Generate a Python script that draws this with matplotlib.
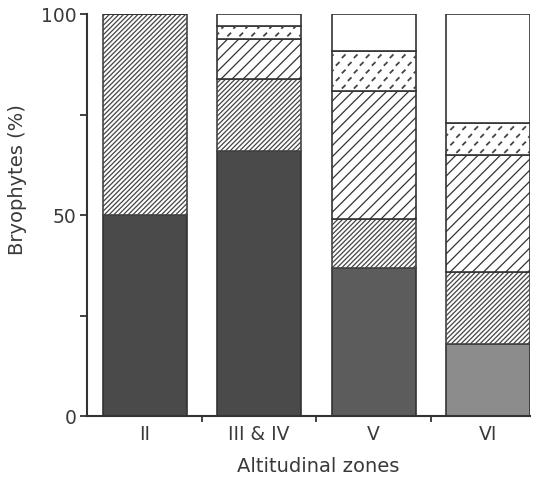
import matplotlib
matplotlib.use('Agg')
import matplotlib.pyplot as plt
from matplotlib.collections import LineCollection
import numpy as np

# Altitudinal zones and bryophyte percentages per group (bottom to top)
zones = ['II', 'III & IV', 'V', 'VI']
group_dark = [50, 66, 37, 18]     # dotted grey
group_fine = [50, 18, 12, 18]     # fine diagonal hatch
group_coarse = [0, 10, 32, 29]    # coarse diagonal hatch
group_dash = [0, 3, 10, 8]        # small dash texture
group_open = [0, 3, 9, 27]        # open / white

dark_colors = ['#4a4a4a', '#4a4a4a', '#5c5c5c', '#8c8c8c']
LINE = '#333333'
TEXT = '#3a3a3a'

plt.rcParams['hatch.linewidth'] = 0.9
plt.rcParams['font.family'] = ['DejaVu Sans']

fig = plt.figure(figsize=(5.42, 4.8), dpi=100)
ax = fig.add_axes([0.1614, 0.1323, 0.978 - 0.1614, 0.970 - 0.1323])

x = np.arange(len(zones))
w = 0.733
bottom = np.zeros(len(zones))

ax.bar(x, group_dark, w, bottom=bottom, color=dark_colors, edgecolor=LINE, linewidth=1.2)
bottom += group_dark
ax.bar(x, group_fine, w, bottom=bottom, color='white', edgecolor='#444444', linewidth=1.2,
       hatch='///////')
bottom += group_fine
ax.bar(x, group_coarse, w, bottom=bottom, color='white', edgecolor=LINE, linewidth=1.2,
       hatch='///')
bottom += group_coarse
dash_bars = ax.bar(x, group_dash, w, bottom=bottom, color='white', edgecolor=LINE, linewidth=1.2)
bottom += group_dash
ax.bar(x, group_open, w, bottom=bottom, color='white', edgecolor=LINE, linewidth=1.2)

# small dash texture inside the dashed segments
for rect in dash_bars:
    if rect.get_height() <= 0:
        continue
    x0, y0 = rect.get_x(), rect.get_y()
    rw, rh = rect.get_width(), rect.get_height()
    segs = []
    ncol = 7
    rows = np.arange(y0 + 1.0, y0 + rh, 1.9)
    for i, yy in enumerate(rows):
        off = 0.5 if i % 2 else 0.0
        for j in range(ncol + 1):
            xx = x0 + (j + off) * rw / ncol
            segs.append([(xx - 0.016, yy - 0.45), (xx + 0.016, yy + 0.45)])
    lc = LineCollection(segs, colors='#444444', linewidths=1.3)
    ax.add_collection(lc)
    lc.set_clip_path(rect)

ax.set_xlim(-0.5, 3 + w / 2)
ax.set_ylim(0, 100)

for s in ['top', 'right']:
    ax.spines[s].set_visible(False)
for s in ['left', 'bottom']:
    ax.spines[s].set_color(LINE)
    ax.spines[s].set_linewidth(1.5)

ax.set_yticks([0, 25, 50, 75, 100])
ax.set_yticklabels(['0', '', '50', '', '100'])
ax.tick_params(axis='y', direction='out', length=5, width=1.3, color=LINE,
               labelsize=13.5, labelcolor=TEXT, pad=3)

ax.set_xticks([0.5, 1.5, 2.5])
ax.set_xticklabels([])
ax.tick_params(axis='x', which='major', direction='out', length=4, width=1.3, color=LINE)
ax.set_xticks(x, minor=True)
ax.set_xticklabels(zones, minor=True)
ax.tick_params(axis='x', which='minor', length=0, labelsize=13.5, labelcolor=TEXT, pad=6)

fig.text(0.033, 0.625, 'Bryophytes (%)', rotation=90, ha='center', va='center',
         fontsize=14, color=TEXT)
fig.text(0.587, 0.029, 'Altitudinal zones', ha='center', va='center',
         fontsize=14, color=TEXT)

fig.savefig('out.png', dpi=100, facecolor='white')
